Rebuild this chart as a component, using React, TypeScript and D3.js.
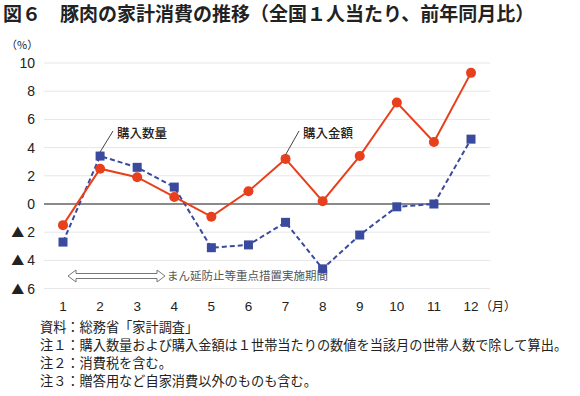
import React, { useRef, useEffect } from "react";
import * as d3 from "d3";

const months = [1, 2, 3, 4, 5, 6, 7, 8, 9, 10, 11, 12];
const amount = [-1.5, 2.5, 1.9, 0.5, -0.9, 0.9, 3.2, 0.2, 3.4, 7.2, 4.4, 9.3];
const quantity = [-2.7, 3.4, 2.6, 1.2, -3.1, -2.9, -1.3, -4.6, -2.2, -0.2, 0.0, 4.6];
const yTicks = [10, 8, 6, 4, 2, 0, -2, -4, -6];
const notes = [
  "資料：総務省「家計調査」",
  "注１：購入数量および購入金額は１世帯当たりの数値を当該月の世帯人数で除して算出。",
  "注２：消費税を含む。",
  "注３：贈答用など自家消費以外のものも含む。",
];

const FONT = "'Noto Sans CJK JP', 'Liberation Sans', sans-serif";
const NUM_FONT = "'Liberation Sans', 'Noto Sans CJK JP', sans-serif";

function App() {
  const ref = useRef<SVGSVGElement>(null);

  useEffect(() => {
    const width = 580;
    const height = 396;
    const svg = d3.select(ref.current).attr("viewBox", [0, 0, width, height]);
    svg.selectAll("*").remove();

    const x = d3.scaleLinear().domain([1, 12]).range([63, 471]);
    const y = d3.scaleLinear().domain([-6, 10]).range([288.6, 63]);
    const gridX0 = 44;
    const gridX1 = 490;

    // title
    svg.append("text")
      .attr("x", 3).attr("y", 21)
      .attr("font-family", FONT).attr("font-size", 19).attr("font-weight", "bold")
      .attr("fill", "#222")
      .text("図６　豚肉の家計消費の推移（全国１人当たり、前年同月比）");

    svg.append("text")
      .attr("x", 6).attr("y", 49)
      .attr("font-family", FONT).attr("font-size", 11).attr("fill", "#222")
      .text("（%）");

    // gridlines
    svg.append("g").selectAll("line")
      .data(yTicks.filter((d) => d !== 0))
      .join("line")
      .attr("x1", gridX0).attr("x2", gridX1)
      .attr("y1", (d) => y(d)).attr("y2", (d) => y(d))
      .attr("stroke", "#e6e6e6").attr("stroke-width", 1);

    svg.append("line")
      .attr("x1", gridX0).attr("x2", gridX1)
      .attr("y1", y(0)).attr("y2", y(0))
      .attr("stroke", "#8a8a8a").attr("stroke-width", 2);

    // y tick labels
    const yt = svg.append("g").selectAll("text")
      .data(yTicks)
      .join("text")
      .attr("x", 35).attr("y", (d) => y(d) + 5)
      .attr("text-anchor", "end")
      .attr("font-family", NUM_FONT).attr("font-size", 14).attr("fill", "#222");
    yt.filter((d) => d < 0).append("tspan")
      .attr("font-family", FONT).attr("font-size", 13)
      .text("▲ ");
    yt.append("tspan").text((d) => `${Math.abs(d)}`);

    // x tick labels
    svg.append("g").selectAll("text")
      .data(months)
      .join("text")
      .attr("x", (d) => x(d)).attr("y", 311)
      .attr("text-anchor", "middle")
      .attr("font-family", NUM_FONT).attr("font-size", 13.5).attr("fill", "#222")
      .text((d) => d);
    svg.append("text")
      .attr("x", 480).attr("y", 311)
      .attr("font-family", FONT).attr("font-size", 12).attr("fill", "#222")
      .text("（月）");

    // period arrow
    const ay = 276;
    const ax0 = 68;
    const ax1 = 165;
    const arrow = d3.path();
    arrow.moveTo(ax0, ay);
    arrow.lineTo(ax0 + 8, ay - 6);
    arrow.lineTo(ax0 + 8, ay - 2.5);
    arrow.lineTo(ax1 - 8, ay - 2.5);
    arrow.lineTo(ax1 - 8, ay - 6);
    arrow.lineTo(ax1, ay);
    arrow.lineTo(ax1 - 8, ay + 6);
    arrow.lineTo(ax1 - 8, ay + 2.5);
    arrow.lineTo(ax0 + 8, ay + 2.5);
    arrow.lineTo(ax0 + 8, ay + 6);
    arrow.closePath();
    svg.append("path")
      .attr("d", arrow.toString())
      .attr("fill", "#fff").attr("stroke", "#777").attr("stroke-width", 1);
    svg.append("text")
      .attr("x", 167).attr("y", ay + 4)
      .attr("font-family", FONT).attr("font-size", 11.5).attr("fill", "#555")
      .text("まん延防止等重点措置実施期間");

    // lines
    const line = d3.line<number>()
      .x((d, i) => x(months[i]))
      .y((d) => y(d));

    svg.append("path")
      .datum(quantity)
      .attr("fill", "none").attr("stroke", "#3a4a9e")
      .attr("stroke-width", 2).attr("stroke-dasharray", "5,3")
      .attr("d", line);

    svg.append("path")
      .datum(amount)
      .attr("fill", "none").attr("stroke", "#e8401c")
      .attr("stroke-width", 2)
      .attr("d", line);

    svg.append("g").selectAll("rect")
      .data(quantity)
      .join("rect")
      .attr("x", (d, i) => x(months[i]) - 4.5)
      .attr("y", (d) => y(d) - 4.5)
      .attr("width", 9).attr("height", 9)
      .attr("fill", "#3a4a9e");

    svg.append("g").selectAll("circle")
      .data(amount)
      .join("circle")
      .attr("cx", (d, i) => x(months[i]))
      .attr("cy", (d) => y(d))
      .attr("r", 5)
      .attr("fill", "#e8401c");

    // series labels with leader lines
    const labels = [
      { text: "購入数量", month: 2, value: quantity[1], tx: 117, ty: 133 },
      { text: "購入金額", month: 7, value: amount[6], tx: 303, ty: 133 },
    ];
    labels.forEach((l) => {
      svg.append("line")
        .attr("x1", x(l.month)).attr("y1", y(l.value) - 4)
        .attr("x2", l.tx - 4).attr("y2", l.ty - 2)
        .attr("stroke", "#444").attr("stroke-width", 1);
      svg.append("text")
        .attr("x", l.tx).attr("y", l.ty + 4.5)
        .attr("font-family", FONT).attr("font-size", 12.5).attr("font-weight", 500)
        .attr("fill", "#222")
        .text(l.text);
    });

    // notes
    svg.append("g").selectAll("text")
      .data(notes)
      .join("text")
      .attr("x", 40).attr("y", (d, i) => 332 + i * 18)
      .attr("font-family", FONT).attr("font-size", 13.2).attr("fill", "#222")
      .text((d) => d);
  }, []);

  return (
    <svg
      ref={ref}
      width={580}
      height={396}
      style={{ position: "absolute", left: 0, top: 0, background: "#fff" }}
    />
  );
}

export default App;
